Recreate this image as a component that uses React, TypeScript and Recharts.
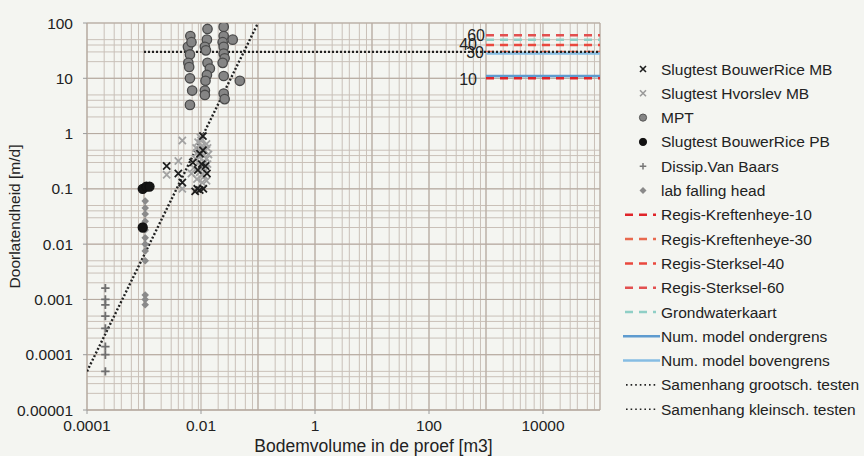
import React from 'react';
import { ScatterChart, Scatter, XAxis, YAxis, CartesianGrid, ReferenceLine } from 'recharts';

// ---- axis ticks ----
const xTickValues = [0.0001, 0.01, 1, 100, 10000];
const xTickLabels = ['0.0001', '0.01', '1', '100', '10000'];
const yTickValues = [0.00001, 0.0001, 0.001, 0.01, 0.1, 1, 10, 100];
const yTickLabels = ['0.00001', '0.0001', '0.001', '0.01', '0.1', '1', '10', '100'];

// ---- log grid ----
const gridDecadesX = [-4, -3, -2, -1, 0, 1, 2, 3, 4];
const gridDecadesY = [-5, -4, -3, -2, -1, 0, 1];
const gridMultipliers = [1, 2, 3, 4, 5, 6, 7, 8, 9];

// ---- data series ----
const bouwerRiceMB = [
  { x: 0.0108, y: 0.9 }, { x: 0.0025, y: 0.26 }, { x: 0.004, y: 0.19 }, { x: 0.0047, y: 0.13 },
  { x: 0.0079, y: 0.09 }, { x: 0.0086, y: 0.1 }, { x: 0.011, y: 0.1 }, { x: 0.0095, y: 0.095 },
  { x: 0.0072, y: 0.3 }, { x: 0.0103, y: 0.28 }, { x: 0.0127, y: 0.19 }, { x: 0.0108, y: 0.5 },
  { x: 0.0096, y: 0.43 }, { x: 0.0088, y: 0.22 }, { x: 0.012, y: 0.26 },
];
const hvorslevMB = [
  { x: 0.0047, y: 0.75 }, { x: 0.004, y: 0.32 }, { x: 0.0025, y: 0.18 }, { x: 0.0047, y: 0.1 },
  { x: 0.0089, y: 0.7 }, { x: 0.013, y: 0.55 }, { x: 0.0098, y: 0.85 }, { x: 0.0105, y: 0.6 },
  { x: 0.0085, y: 0.45 }, { x: 0.011, y: 0.4 }, { x: 0.0125, y: 0.35 }, { x: 0.009, y: 0.3 },
  { x: 0.0105, y: 0.25 }, { x: 0.012, y: 0.22 }, { x: 0.0095, y: 0.2 }, { x: 0.0115, y: 0.17 },
  { x: 0.0085, y: 0.15 }, { x: 0.0105, y: 0.13 }, { x: 0.013, y: 0.28 }, { x: 0.0075, y: 0.24 },
  { x: 0.008, y: 0.35 }, { x: 0.0115, y: 0.5 }, { x: 0.0135, y: 0.42 }, { x: 0.01, y: 0.75 },
  { x: 0.0125, y: 0.65 }, { x: 0.0095, y: 0.38 }, { x: 0.0115, y: 0.3 }, { x: 0.0082, y: 0.55 },
  { x: 0.0105, y: 0.18 }, { x: 0.0125, y: 0.14 }, { x: 0.0068, y: 0.19 },
];
const mpt = [
  { x: 0.0065, y: 58 }, { x: 0.0059, y: 37 }, { x: 0.0064, y: 27 }, { x: 0.006, y: 19 },
  { x: 0.0062, y: 16 }, { x: 0.0064, y: 10 }, { x: 0.007, y: 6 }, { x: 0.0064, y: 3.3 },
  { x: 0.0068, y: 45 }, { x: 0.013, y: 78 }, { x: 0.0127, y: 50 }, { x: 0.0117, y: 37 },
  { x: 0.0122, y: 32 }, { x: 0.013, y: 19 }, { x: 0.0143, y: 15 }, { x: 0.0127, y: 11.5 },
  { x: 0.012, y: 9 }, { x: 0.0117, y: 6 }, { x: 0.0117, y: 5 }, { x: 0.025, y: 85 },
  { x: 0.025, y: 58 }, { x: 0.024, y: 45 }, { x: 0.025, y: 37 }, { x: 0.025, y: 28 },
  { x: 0.026, y: 23 }, { x: 0.024, y: 19 }, { x: 0.025, y: 11 }, { x: 0.025, y: 5.3 },
  { x: 0.026, y: 4.2 }, { x: 0.036, y: 50 }, { x: 0.048, y: 9 },
];
const bouwerRicePB = [
  { x: 0.00095, y: 0.1 }, { x: 0.0011, y: 0.11 }, { x: 0.00125, y: 0.11 }, { x: 0.00095, y: 0.02 },
];
const dissipVanBaars = [
  { x: 0.00021, y: 0.0016 }, { x: 0.00021, y: 0.001 }, { x: 0.00021, y: 0.0008 },
  { x: 0.00021, y: 0.0005 }, { x: 0.00021, y: 0.0003 }, { x: 0.00021, y: 0.00014 },
  { x: 0.00021, y: 0.0001 }, { x: 0.00021, y: 0.00005 },
];
const labFallingHead = [
  { x: 0.00105, y: 0.06 }, { x: 0.00105, y: 0.045 }, { x: 0.00105, y: 0.035 }, { x: 0.00105, y: 0.026 },
  { x: 0.00105, y: 0.018 }, { x: 0.00105, y: 0.013 }, { x: 0.00105, y: 0.01 }, { x: 0.00105, y: 0.0075 },
  { x: 0.00105, y: 0.005 }, { x: 0.00105, y: 0.0012 }, { x: 0.00105, y: 0.001 }, { x: 0.00105, y: 0.0008 },
];
const samenhangKleinsch = [{ x: 0.0001, y: 0.00005 }, { x: 0.1, y: 100 }];
const samenhangGrootsch = [{ x: 0.001, y: 30 }, { x: 100000, y: 30 }];

// ---- horizontal level lines (value, x-range) ----
const levelXRange = [1000, 100000];
const regisKreftenheye10 = 10;
const regisKreftenheye30 = 30;
const regisSterksel40 = 40;
const regisSterksel60 = 60;
const grondwaterkaart = 50;
const numModelOndergrens = 11;
const numModelBovengrens = 28;

const FONT = '"Liberation Sans", Arial, Helvetica, sans-serif';
const TEXT = '#222';

const fmt = (labels: string[], values: number[]) => (v: number) => {
  const i = values.findIndex((t) => Math.abs(Math.log10(t) - Math.log10(v)) < 1e-6);
  return i >= 0 ? labels[i] : '';
};

const Cross = ({ cx, cy, color, s = 3.6, w = 1.8 }: any) =>
  cx == null ? null : (
    <path d={`M${cx - s},${cy - s}L${cx + s},${cy + s}M${cx - s},${cy + s}L${cx + s},${cy - s}`} stroke={color} strokeWidth={w} fill="none" />
  );
const Plus = ({ cx, cy, color, s = 4.2, w = 1.8 }: any) =>
  cx == null ? null : (
    <path d={`M${cx - s},${cy}L${cx + s},${cy}M${cx},${cy - s}L${cx},${cy + s}`} stroke={color} strokeWidth={w} fill="none" />
  );
const Diamond = ({ cx, cy, color, s = 3.8 }: any) =>
  cx == null ? null : <path d={`M${cx},${cy - s}L${cx + s},${cy}L${cx},${cy + s}L${cx - s},${cy}Z`} fill={color} />;
const Dot = ({ cx, cy, fill, stroke, r = 4.7, w = 1.3 }: any) =>
  cx == null ? null : <circle cx={cx} cy={cy} r={r} fill={fill} stroke={stroke} strokeWidth={w} />;
const NoShape = () => null;

const legendItems = [
  { name: 'Slugtest BouwerRice MB', kind: 'x', color: '#1e1e1e' },
  { name: 'Slugtest Hvorslev MB', kind: 'x', color: '#9a9a9a' },
  { name: 'MPT', kind: 'circle', color: '#858585' },
  { name: 'Slugtest BouwerRice PB', kind: 'circle', color: '#111' },
  { name: 'Dissip.Van Baars', kind: 'plus', color: '#777' },
  { name: 'lab falling head', kind: 'diamond', color: '#8a8a8a' },
  { name: 'Regis-Kreftenheye-10', kind: 'dash', color: '#e0242a' },
  { name: 'Regis-Kreftenheye-30', kind: 'dash', color: '#e8694e' },
  { name: 'Regis-Sterksel-40', kind: 'dash', color: '#e9483e' },
  { name: 'Regis-Sterksel-60', kind: 'dash', color: '#e25050' },
  { name: 'Grondwaterkaart', kind: 'dash', color: '#8fcfc6' },
  { name: 'Num. model ondergrens', kind: 'solid', color: '#5e9bcf' },
  { name: 'Num. model bovengrens', kind: 'solid', color: '#86bde3' },
  { name: 'Samenhang grootsch. testen', kind: 'dot', color: '#222' },
  { name: 'Samenhang kleinsch. testen', kind: 'dot', color: '#222' },
];

const LegendBox = () => (
  <svg width={264} height={400} style={{ position: 'absolute', left: 600, top: 40 }}>
    {legendItems.map((it, i) => {
      const y = 29 + i * 24.3;
      const mx = 43;
      let mark: any = null;
      if (it.kind === 'x') mark = <Cross cx={mx} cy={y} color={it.color} s={3} w={1.6} />;
      if (it.kind === 'circle') mark = <Dot cx={mx} cy={y} fill={it.color} stroke={it.color === '#111' ? '#111' : '#555'} r={3.6} w={1} />;
      if (it.kind === 'plus') mark = <Plus cx={mx} cy={y} color={it.color} s={3.3} w={1.5} />;
      if (it.kind === 'diamond') mark = <Diamond cx={mx} cy={y} color={it.color} s={3.5} />;
      if (it.kind === 'dash') mark = <line x1={25} x2={56} y1={y} y2={y} stroke={it.color} strokeWidth={2.5} strokeDasharray="8 6" />;
      if (it.kind === 'solid') mark = <line x1={23} x2={60} y1={y} y2={y} stroke={it.color} strokeWidth={2.5} />;
      if (it.kind === 'dot') mark = <line x1={26} x2={58} y1={y} y2={y} stroke={it.color} strokeWidth={1.6} strokeDasharray="1.6 3" />;
      return (
        <g key={it.name}>
          {mark}
          <text x={61} y={y} dy="0.36em" fontFamily={FONT} fontSize={15.5} fill={TEXT}>{it.name}</text>
        </g>
      );
    })}
  </svg>
);

const levelLabel = (text: string, dx: number, dy: number) => (props: any) => {
  const vb = props.viewBox || {};
  return (
    <text x={vb.x - dx} y={vb.y + dy} textAnchor="end" dominantBaseline="central" fontFamily={FONT} fontSize={16} fill={TEXT}>
      {text}
    </text>
  );
};

const xAxisLabel = (props: any) => {
  const vb = props.viewBox || {};
  return (
    <text x={vb.x + vb.width / 2 + 30} y={446} textAnchor="middle" dominantBaseline="central" fontFamily={FONT} fontSize={17.5} fill={TEXT}>
      Bodemvolume in de proef [m3]
    </text>
  );
};

export default function App() {
  const gridX = gridDecadesX.flatMap((d) => gridMultipliers.map((m) => m * Math.pow(10, d))).concat([100000]);
  const gridY = gridDecadesY.flatMap((d) => gridMultipliers.map((m) => m * Math.pow(10, d))).concat([100]);
  const majorX = gridDecadesX.map((d) => Math.pow(10, d)).concat([100000]);
  const majorY = gridDecadesY.map((d) => Math.pow(10, d)).concat([100]);
  const seg = (v: number) => [{ x: levelXRange[0], y: v }, { x: levelXRange[1], y: v }];

  return (
    <div style={{ position: 'absolute', left: 0, top: 0, width: 864, height: 456, background: '#f4f5f1', fontFamily: FONT }}>
      <ScatterChart width={864} height={456} margin={{ top: 23, right: 264, bottom: 0, left: 0 }}>
        <CartesianGrid horizontalValues={gridY} verticalValues={gridX} stroke="#c9c0b8" strokeWidth={1} fill="none" />
        <CartesianGrid horizontalValues={majorY} verticalValues={majorX} stroke="#b5a99f" strokeWidth={1} fill="none" />
        <XAxis
          type="number"
          dataKey="x"
          scale="log"
          domain={[0.0001, 100000]}
          allowDataOverflow
          ticks={xTickValues}
          tickFormatter={fmt(xTickLabels, xTickValues)}
          height={46}
          axisLine={{ stroke: '#b5a99f' }}
          tickLine={{ stroke: '#9a9a9a' }}
          tickSize={4}
          tickMargin={6}
          tick={{ fill: TEXT, fontSize: 15.5, fontFamily: FONT }}
          label={{ content: xAxisLabel }}
        />
        <YAxis
          type="number"
          dataKey="y"
          scale="log"
          domain={[0.00001, 100]}
          allowDataOverflow
          ticks={yTickValues}
          tickFormatter={fmt(yTickLabels, yTickValues)}
          width={87}
          axisLine={{ stroke: '#b5a99f' }}
          tickLine={{ stroke: '#9a9a9a' }}
          tickSize={4}
          tickMargin={10}
          tick={{ fill: TEXT, fontSize: 15.5, fontFamily: FONT }}
          label={{ value: 'Doorlatendheid [m/d]', angle: -90, position: 'insideLeft', offset: 14, fill: TEXT, fontSize: 15.5, fontFamily: FONT, style: { textAnchor: 'middle' } }}
        />

        <ReferenceLine segment={seg(grondwaterkaart)} stroke="#8fcfc6" strokeWidth={2.5} strokeDasharray="8 6" />
        <ReferenceLine segment={seg(regisSterksel60)} stroke="#e25050" strokeWidth={2.5} strokeDasharray="8 6" label={levelLabel('60', 1, 0)} />
        <ReferenceLine segment={seg(regisSterksel40)} stroke="#e9483e" strokeWidth={2.5} strokeDasharray="8 6" label={levelLabel('40', 9, -1)} />
        <ReferenceLine segment={seg(regisKreftenheye30)} stroke="#e8694e" strokeWidth={2.5} strokeDasharray="8 6" label={levelLabel('30', 2, 1)} />
        <ReferenceLine segment={seg(numModelBovengrens)} stroke="#86bde3" strokeWidth={2.5} />
        <ReferenceLine segment={seg(numModelOndergrens)} stroke="#5e9bcf" strokeWidth={2.5} />
        <ReferenceLine segment={seg(regisKreftenheye10)} stroke="#e0242a" strokeWidth={2.5} strokeDasharray="8 6" label={levelLabel('10', 9, 1)} />

        <Scatter data={samenhangGrootsch} isAnimationActive={false} shape={NoShape} line={{ stroke: '#222', strokeWidth: 2.4, strokeDasharray: '2 2' }} lineType="joint" />
        <Scatter data={samenhangKleinsch} isAnimationActive={false} shape={NoShape} line={{ stroke: '#222', strokeWidth: 2.4, strokeDasharray: '2 2' }} lineType="joint" />

        <Scatter data={mpt} isAnimationActive={false} shape={(p: any) => <Dot cx={p.cx} cy={p.cy} fill="#858585" stroke="#4a4a4a" />} />
        <Scatter data={labFallingHead} isAnimationActive={false} shape={(p: any) => <Diamond cx={p.cx} cy={p.cy} color="#8a8a8a" />} />
        <Scatter data={bouwerRicePB} isAnimationActive={false} shape={(p: any) => <Dot cx={p.cx} cy={p.cy} fill="#151515" stroke="#111" r={4.5} />} />
        <Scatter data={dissipVanBaars} isAnimationActive={false} shape={(p: any) => <Plus cx={p.cx} cy={p.cy} color="#6f6f6f" />} />
        <Scatter data={hvorslevMB} isAnimationActive={false} shape={(p: any) => <Cross cx={p.cx} cy={p.cy} color="#a2a2a2" />} />
        <Scatter data={bouwerRiceMB} isAnimationActive={false} shape={(p: any) => <Cross cx={p.cx} cy={p.cy} color="#1e1e1e" />} />
      </ScatterChart>
      <LegendBox />
    </div>
  );
}
